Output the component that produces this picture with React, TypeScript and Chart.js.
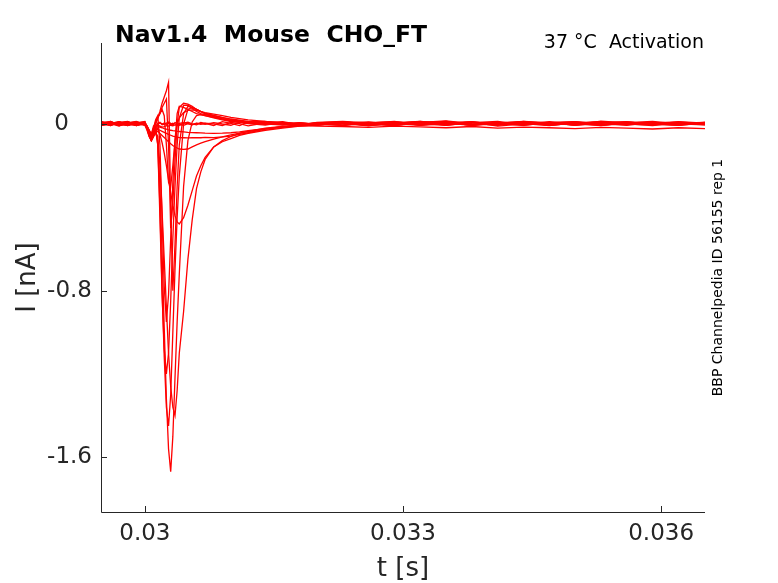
import { useEffect, useRef } from 'react';
import Chart from 'chart.js/auto';

// sample times [s], denser around the step onset
const times = [
  0.02949, 0.0296, 0.0297, 0.0298, 0.0299, 0.03,
  0.030025, 0.03005, 0.030075, 0.0301, 0.030125, 0.03015,
  0.030175, 0.0302, 0.030225, 0.03025, 0.030275, 0.0303, 0.030325, 0.03035,
  0.030375, 0.0304, 0.03045, 0.0305, 0.03055, 0.0306, 0.03065, 0.0307,
  0.0308, 0.0309, 0.031, 0.0311, 0.0312, 0.0314, 0.0316, 0.0318, 0.032,
  0.0323, 0.0326, 0.0329, 0.0332, 0.0335, 0.0338, 0.0341, 0.0344, 0.0347,
  0.035, 0.0353, 0.0356, 0.0359, 0.0362, 0.03651,
];

// current traces [nA], one per voltage step
const h1 = [
  0.008, -0.006, 0.01, -0.005, 0.007, 0.0,
  -0.01, -0.03, -0.05, -0.03, -0.01, 0.0,
  0.004, 0.002, -0.003, 0.005, 0.003, -0.002, 0.004, 0.0, -0.004, 0.003, 0.006, 0.002, -0.003, 0.004, 0.002, -0.002,
  0.007, 0.0, -0.006, 0.009, 0.002, -0.005, 0.008, 0.001, -0.006,
  0.009, -0.003, 0.006, 0.012, -0.004, 0.008, 0.0, 0.01, -0.006, 0.004, 0.009, -0.003, 0.006, 0.001, -0.004,
];
const h2 = [
  -0.009, 0.012, -0.003, 0.01, -0.007, 0.004,
  -0.02, -0.05, -0.07, -0.04, -0.015, 0.005,
  0.008, -0.004, 0.006, -0.002, 0.009, 0.003, -0.005, 0.007, 0.002, -0.006, 0.004, 0.009, 0.001, -0.004, 0.007, 0.003,
  -0.007, 0.011, 0.003, -0.008, 0.01, 0.013, 0.004, -0.006, 0.008,
  0.013, 0.005, -0.007, 0.008, 0.015, 0.002, -0.006, 0.012, 0.006, -0.004, 0.014, 0.005, -0.003, 0.011, 0.004,
];
const h3 = [
  0.013, 0.002, -0.01, 0.006, 0.012, -0.006,
  -0.03, -0.06, -0.08, -0.05, -0.02, -0.005,
  -0.01, -0.015, -0.012, -0.008, -0.01, -0.006, -0.009, -0.004, -0.007, -0.003, -0.006, 0.002, -0.004, 0.003, -0.002, 0.004,
  0.001, -0.007, 0.008, 0.002, -0.009, 0.005, 0.011, -0.003, 0.007,
  -0.008, 0.004, 0.012, -0.006, 0.002, 0.009, -0.01, 0.001, 0.008, -0.007, 0.005, 0.011, -0.004, 0.002, 0.008,
];
const s1 = [
  -0.004, 0.009, 0.001, -0.007, 0.01, 0.002,
  -0.02, -0.05, -0.075, -0.05, -0.025, -0.012,
  -0.015, -0.018, -0.022, -0.025, -0.028, -0.03, -0.032, -0.033, -0.035, -0.036, -0.038, -0.04, -0.041, -0.042, -0.043, -0.044,
  -0.045, -0.044, -0.042, -0.038, -0.032, -0.022, -0.014, -0.008, -0.01,
  -0.012, -0.016, -0.01, -0.014, -0.018, -0.012, -0.02, -0.015, -0.018, -0.022, -0.016, -0.02, -0.024, -0.018, -0.022,
];
const s2 = [
  0.006, -0.007, 0.011, 0.0, -0.006, 0.008,
  -0.025, -0.06, -0.08, -0.06, -0.035, -0.025,
  -0.03, -0.035, -0.04, -0.045, -0.05, -0.054, -0.058, -0.061, -0.063, -0.065, -0.066, -0.067, -0.066, -0.065, -0.066, -0.064,
  -0.065, -0.062, -0.058, -0.05, -0.042, -0.025, -0.012, -0.004, 0.002,
  0.006, -0.008, 0.004, 0.01, -0.006, 0.007, 0.012, -0.003, 0.005, 0.011, -0.007, 0.002, 0.009, -0.004, 0.007,
];
const s3 = [
  -0.006, 0.004, 0.01, -0.008, 0.002, -0.003,
  -0.02, -0.055, -0.08, -0.06, -0.04, -0.035,
  -0.045, -0.055, -0.065, -0.075, -0.085, -0.095, -0.103, -0.11, -0.115, -0.12, -0.122, -0.12, -0.11, -0.1, -0.092, -0.085,
  -0.072, -0.062, -0.052, -0.044, -0.036, -0.025, -0.016, -0.009, -0.004,
  0.002, -0.009, 0.005, -0.004, 0.008, -0.007, 0.002, 0.01, -0.006, 0.004, -0.008, 0.007, 0.001, -0.006, 0.005,
];
const t7 = [
  0.01, -0.003, 0.006, 0.012, -0.004, 0.001,
  -0.015, -0.045, -0.07, -0.05, -0.03, -0.02,
  -0.05, -0.09, -0.14, -0.2, -0.27, -0.33, -0.39, -0.44, -0.47, -0.48, -0.45, -0.39, -0.32, -0.25, -0.2, -0.16,
  -0.11, -0.085, -0.07, -0.055, -0.045, -0.03, -0.02, -0.01, -0.005,
  0.007, 0.0, -0.008, 0.005, 0.012, -0.003, 0.004, -0.007, 0.008, 0.002, -0.004, 0.01, 0.0, -0.006, 0.004,
];
const t8 = [
  -0.003, 0.007, -0.008, 0.004, 0.011, -0.004,
  -0.02, -0.05, -0.075, -0.055, -0.04, -0.06,
  -0.2, -0.42, -0.65, -0.88, -1.1, -1.26, -1.36, -1.4, -1.28, -1.1, -0.9, -0.65, -0.46, -0.31, -0.23, -0.17,
  -0.11, -0.08, -0.06, -0.045, -0.035, -0.02, -0.012, -0.005, 0.0,
  -0.006, 0.008, 0.002, -0.007, 0.005, 0.011, -0.004, 0.002, 0.008, -0.006, 0.007, 0.001, -0.008, 0.005, 0.002,
];
const t9 = [
  0.004, 0.012, -0.006, 0.002, -0.007, 0.008,
  -0.02, -0.05, -0.08, -0.06, -0.04, -0.08,
  -0.3, -0.62, -0.98, -1.32, -1.56, -1.67, -1.5, -1.22, -0.95, -0.72, -0.3, -0.08, 0.01, 0.04, 0.045, 0.04,
  0.03, 0.02, 0.012, 0.008, 0.004, 0.0, -0.004, 0.005, -0.003,
  0.007, -0.004, 0.01, 0.001, -0.007, 0.008, 0.004, -0.003, 0.011, 0.0, -0.006, 0.007, 0.002, -0.004, 0.008,
];
const t10 = [
  -0.007, 0.002, 0.011, -0.004, 0.005, 0.012,
  -0.015, -0.045, -0.07, -0.05, -0.03, -0.1,
  -0.4, -0.8, -1.12, -1.36, -1.45, -1.3, -1.0, -0.7, -0.45, -0.25, 0.0, 0.07, 0.08, 0.07, 0.06, 0.05,
  0.035, 0.025, 0.015, 0.01, 0.004, -0.002, 0.004, -0.005, 0.002,
  0.01, 0.002, -0.006, 0.007, 0.012, -0.001, 0.005, 0.011, -0.004, 0.004, 0.01, -0.003, 0.007, 0.0, 0.005,
];
const t11 = [
  0.008, -0.004, 0.002, 0.01, -0.008, 0.001,
  -0.02, -0.05, -0.07, -0.04, -0.02, -0.1,
  -0.45, -0.82, -1.08, -1.2, -1.1, -0.85, -0.55, -0.3, -0.1, 0.03, 0.09, 0.09, 0.075, 0.06, 0.05, 0.045,
  0.035, 0.025, 0.018, 0.012, 0.008, 0.002, -0.004, 0.005, 0.0,
  -0.004, 0.007, 0.011, -0.003, 0.004, -0.007, 0.008, 0.001, -0.004, 0.01, 0.002, -0.006, 0.008, 0.004, -0.003,
];
const t12 = [
  -0.003, 0.006, -0.007, 0.008, 0.002, -0.006,
  -0.01, -0.04, -0.06, -0.02, 0.02, 0.04,
  -0.1, -0.45, -0.78, -0.95, -0.82, -0.55, -0.28, -0.08, 0.05, 0.085, 0.08, 0.07, 0.06, 0.05, 0.045, 0.04,
  0.032, 0.024, 0.016, 0.012, 0.008, 0.003, 0.008, -0.003, 0.004,
  0.005, -0.006, 0.002, 0.012, 0.004, -0.004, 0.007, 0.002, -0.008, 0.005, 0.011, 0.0, -0.004, 0.007, 0.001,
];
const t13 = [
  0.005, 0.011, -0.003, -0.006, 0.007, 0.0,
  -0.01, -0.03, -0.05, -0.01, 0.0, 0.03,
  0.06, 0.1, 0.13, 0.16, 0.2, -0.4, -0.8, -0.58, -0.3, -0.1, 0.05, 0.085, 0.08, 0.07, 0.06, 0.05,
  0.04, 0.03, 0.022, 0.015, 0.01, 0.004, 0.001, 0.007, -0.003,
  0.008, 0.001, -0.004, 0.01, 0.002, 0.011, -0.003, 0.005, 0.0, 0.008, -0.004, 0.007, 0.012, 0.001, -0.003,
];
const t14 = [
  -0.008, 0.001, 0.008, -0.003, 0.004, 0.01,
  -0.01, -0.03, -0.05, -0.02, 0.01, 0.03,
  0.05, 0.08, 0.1, 0.12, -0.1, -0.5, -0.38, -0.18, 0.0, 0.08, 0.1, 0.095, 0.085, 0.07, 0.06, 0.052,
  0.042, 0.032, 0.024, 0.018, 0.012, 0.006, 0.002, -0.004, 0.005,
  0.011, -0.003, 0.005, 0.0, 0.008, -0.006, 0.004, 0.012, 0.002, -0.004, 0.007, 0.01, -0.001, 0.004, 0.008,
];
const t15 = [
  0.002, -0.008, 0.007, 0.011, -0.003, 0.004,
  -0.015, -0.04, -0.06, -0.03, 0.0, 0.03,
  0.05, 0.07, 0.04, -0.1, -0.28, -0.3, -0.2, -0.08, 0.0, 0.03, 0.055, 0.065, 0.068, 0.065, 0.06, 0.055,
  0.048, 0.04, 0.032, 0.026, 0.02, 0.012, 0.006, 0.002, -0.004,
  0.004, 0.01, -0.003, 0.005, 0.0, 0.008, 0.002, -0.006, 0.007, 0.011, 0.001, -0.003, 0.005, 0.01, 0.0,
];

const traces = [h1, h2, h3, s1, s2, s3, t7, t8, t9, t10, t11, t12, t13, t14, t15];

const xTicks = [0.03, 0.033, 0.036];
const xTickLabels = ['0.03', '0.033', '0.036'];
const yTicks = [0, -0.8, -1.6];
const yTickLabels = ['0', '-0.8', '-1.6'];

const FONT = 'DejaVu Sans, sans-serif';
const INK = '#262626';

const matlabAxes = {
  id: 'matlabAxes',
  afterDraw(chart: any) {
    const { ctx, chartArea: a, scales } = chart;
    const x = scales.x;
    const y = scales.y;
    ctx.save();
    // box off: only left and bottom axis lines, ticks pointing inward
    ctx.strokeStyle = INK;
    ctx.lineWidth = 1;
    ctx.beginPath();
    ctx.moveTo(a.left + 0.5, a.top);
    ctx.lineTo(a.left + 0.5, a.bottom + 0.5);
    ctx.lineTo(a.right, a.bottom + 0.5);
    xTicks.forEach((t) => {
      const px = Math.round(x.getPixelForValue(t)) + 0.5;
      ctx.moveTo(px, a.bottom);
      ctx.lineTo(px, a.bottom - 6);
    });
    yTicks.forEach((t) => {
      const py = Math.round(y.getPixelForValue(t)) + 0.5;
      ctx.moveTo(a.left, py);
      ctx.lineTo(a.left + 6, py);
    });
    ctx.stroke();

    ctx.fillStyle = INK;
    ctx.font = `23px ${FONT}`;
    ctx.textAlign = 'center';
    ctx.textBaseline = 'middle';
    xTicks.forEach((t, i) => {
      ctx.fillText(xTickLabels[i], x.getPixelForValue(t), a.bottom + 22);
    });
    ctx.textAlign = 'right';
    yTicks.forEach((t, i) => {
      const shift = yTickLabels[i] === '0' ? 23 : 0;
      ctx.fillText(yTickLabels[i], a.left - 9 - shift, y.getPixelForValue(t));
    });

    ctx.font = `26px ${FONT}`;
    ctx.textAlign = 'center';
    ctx.fillText('t [s]', (a.left + a.right) / 2, a.bottom + 57);
    ctx.save();
    ctx.translate(28, (a.top + a.bottom) / 2);
    ctx.rotate(-Math.PI / 2);
    ctx.fillText('I [nA]', 0, 0);
    ctx.restore();

    ctx.textBaseline = 'alphabetic';
    ctx.textAlign = 'left';
    ctx.font = `bold 23.5px ${FONT}`;
    ctx.fillStyle = '#000';
    ctx.fillText('Nav1.4  Mouse  CHO_FT', 115, 42);

    ctx.textAlign = 'right';
    ctx.font = `19px ${FONT}`;
    ctx.fillText('37 °C  Activation', a.right - 1, 48);

    ctx.save();
    ctx.translate(722, (a.top + a.bottom) / 2);
    ctx.rotate(-Math.PI / 2);
    ctx.textAlign = 'center';
    ctx.font = `14px ${FONT}`;
    ctx.fillText('BBP Channelpedia ID 56155 rep 1', 0, 0);
    ctx.restore();
    ctx.restore();
  },
};

export default function App() {
  const canvasRef = useRef<HTMLCanvasElement | null>(null);

  useEffect(() => {
    document.body.style.margin = '0';
    if (!canvasRef.current) return;
    const chart = new Chart(canvasRef.current, {
      type: 'line',
      data: {
        datasets: traces.map((vals, k) => ({
          label: `trace ${k + 1}`,
          data: times.map((t, i) => ({ x: t, y: vals[i] })),
          borderColor: '#ff0000',
          borderWidth: 1.3,
          pointRadius: 0,
          tension: 0,
          fill: false,
        })),
      },
      options: {
        responsive: false,
        animation: false,
        events: [],
        layout: { padding: { left: 101, right: 73, top: 43, bottom: 71 } },
        plugins: { legend: { display: false }, tooltip: { enabled: false } },
        scales: {
          x: { type: 'linear', min: 0.02949, max: 0.03651, display: false },
          y: { type: 'linear', min: -1.863, max: 0.389, display: false },
        },
      },
      plugins: [matlabAxes],
    });
    return () => chart.destroy();
  }, []);

  return (
    <div style={{ width: 778, height: 583, background: '#fff' }}>
      <canvas ref={canvasRef} width={778} height={583} />
    </div>
  );
}
